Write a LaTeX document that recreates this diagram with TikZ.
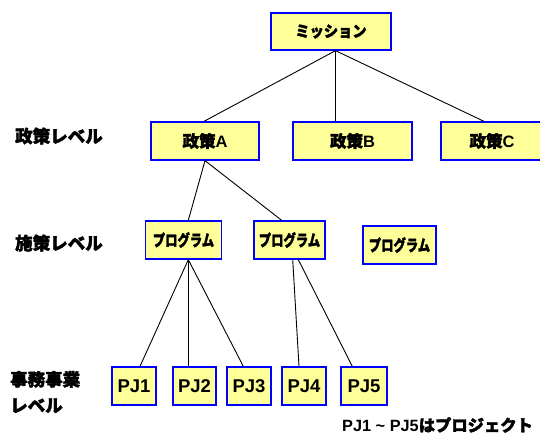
\documentclass[tikz,border=0pt]{standalone}
\usepackage{fontspec}
\setmainfont{Liberation Sans}
\newfontfamily\jp{Noto Sans CJK JP}[BoldFeatures={FakeBold=2}]
\definecolor{boxfill}{HTML}{FFFF99}
\definecolor{boxline}{HTML}{0000FF}
\begin{document}
\begin{tikzpicture}[x=1pt,y=-1pt,
  box/.style={draw=boxline,fill=boxfill,line width=1.3pt,rectangle,inner sep=0pt,minimum height=38pt,font=\bfseries},
  lbl/.style={anchor=west,inner sep=0pt,font=\jp\bfseries\fontsize{17.5}{26}\selectfont,align=left},
  conn/.style={draw=black,line width=0.9pt}]
\useasboundingbox (0,0) rectangle (540,446);
\fill[white] (0,0) rectangle (540,446);
% top
\node[box,minimum width=120pt,minimum height=37pt] (M) at (331,31.5) {\jp\fontsize{15.5}{16}\selectfont\scalebox{0.92}[1]{ミッション}};
% policies
\node[box,minimum width=108pt] (A) at (205,141) {\fontsize{16.5}{18}\selectfont{\jp 政策}A};
\node[box,minimum width=119pt] (B) at (352.5,141) {\fontsize{16.5}{18}\selectfont{\jp 政策}B};
\node[box,minimum width=102pt] (C) at (492,141) {\fontsize{16.5}{18}\selectfont{\jp 政策}C};
% programs
\node[box,minimum width=76pt] (P1) at (183.5,240) {\jp\fontsize{16}{16}\selectfont\scalebox{0.77}[1]{プログラム}};
\node[box,minimum width=71pt] (P2) at (289.5,240) {\jp\fontsize{16}{16}\selectfont\scalebox{0.77}[1]{プログラム}};
\node[box,minimum width=73pt] (P3) at (399.5,245) {\jp\fontsize{16}{16}\selectfont\scalebox{0.77}[1]{プログラム}};
% projects
\node[box,minimum width=44pt] (J1) at (134,386) {\fontsize{18.5}{20}\selectfont PJ1};
\node[box,minimum width=43pt] (J2) at (194.5,386) {\fontsize{18.5}{20}\selectfont PJ2};
\node[box,minimum width=44pt] (J3) at (249,386) {\fontsize{18.5}{20}\selectfont PJ3};
\node[box,minimum width=44pt] (J4) at (304,386) {\fontsize{18.5}{20}\selectfont PJ4};
\node[box,minimum width=46pt] (J5) at (364,386) {\fontsize{18.5}{20}\selectfont PJ5};
% level labels
\node[lbl] (L1) at (15,136) {政策レベル};
\node[lbl] (L2) at (15,243) {施策レベル};
\node[lbl] (L3) at (10,392) {事務事業\\レベル};
% footnote
\node[anchor=west,inner sep=0pt,font=\bfseries\fontsize{16.3}{18}\selectfont] (N) at (342,425) {PJ1 \textasciitilde{} PJ5{\jp はプロジェクト}};
% connectors
\draw[conn] ([xshift=4.5pt]M.south) -- ([xshift=-1pt]A.north);
\draw[conn] ([xshift=4.5pt]M.south) -- ([xshift=-17pt]B.north);
\draw[conn] ([xshift=4.5pt]M.south) -- ([xshift=-8pt]C.north);
\draw[conn] (A.south) -- ([xshift=4.8pt]P1.north);
\draw[conn] (A.south) -- ([xshift=-7.8pt]P2.north);
\draw[conn] ([xshift=4.8pt]P1.south) -- ([xshift=6pt]J1.north);
\draw[conn] ([xshift=4.8pt]P1.south) -- ([xshift=-6.2pt]J2.north);
\draw[conn] ([xshift=4.8pt]P1.south) -- ([xshift=-5.7pt]J3.north);
\draw[conn] ([xshift=3.2pt]P2.south) -- ([xshift=-5pt]J4.north);
\draw[conn] ([xshift=8.8pt]P2.south) -- ([xshift=-11.7pt]J5.north);
\end{tikzpicture}
\end{document}
